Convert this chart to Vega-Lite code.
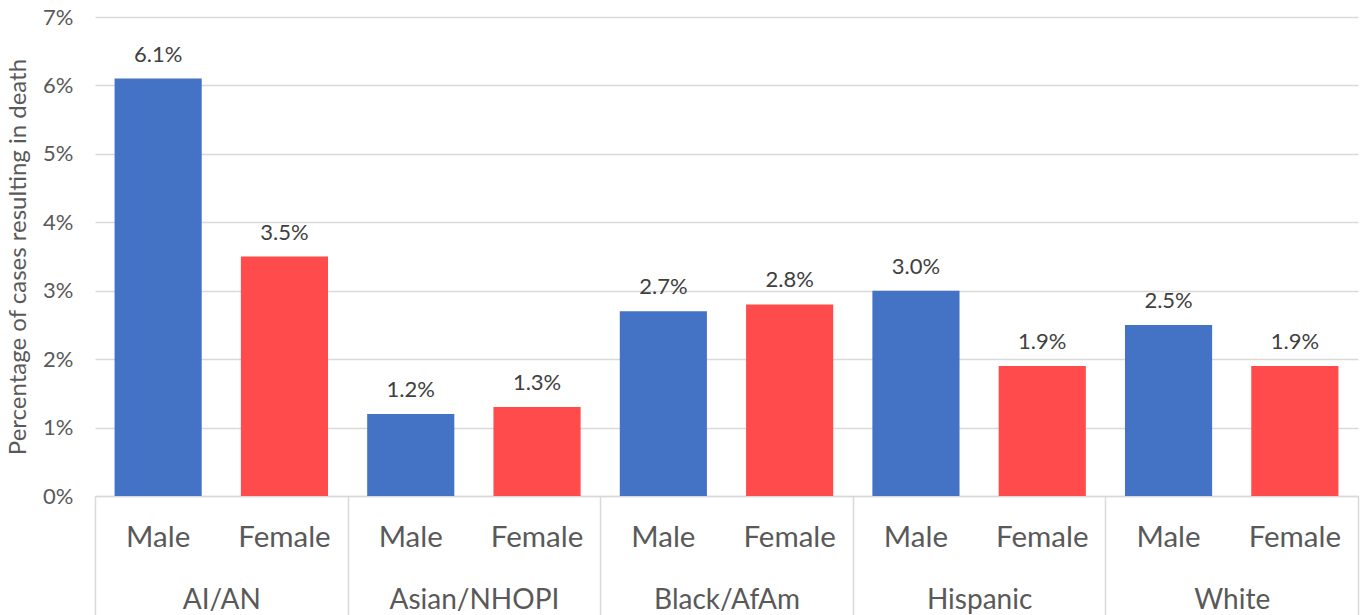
{
  "$schema": "https://vega.github.io/schema/vega-lite/v6.json",
  "autosize": "none",
  "width": 1263,
  "height": 479,
  "padding": {"left": 95, "top": 17, "right": 5, "bottom": 119},
  "background": "white",
  "config": {
    "font": "Lato",
    "view": {"stroke": null},
    "axis": {"labelFont": "Lato", "titleFont": "Lato"}
  },
  "datasets": {
    "bars": [
      {"group": "AI/AN", "sex": "Male", "key": "AI/AN|Male", "value": 0.061, "label": "6.1%"},
      {"group": "AI/AN", "sex": "Female", "key": "AI/AN|Female", "value": 0.035, "label": "3.5%"},
      {"group": "Asian/NHOPI", "sex": "Male", "key": "Asian/NHOPI|Male", "value": 0.012, "label": "1.2%"},
      {"group": "Asian/NHOPI", "sex": "Female", "key": "Asian/NHOPI|Female", "value": 0.013, "label": "1.3%"},
      {"group": "Black/AfAm", "sex": "Male", "key": "Black/AfAm|Male", "value": 0.027, "label": "2.7%"},
      {"group": "Black/AfAm", "sex": "Female", "key": "Black/AfAm|Female", "value": 0.028, "label": "2.8%"},
      {"group": "Hispanic", "sex": "Male", "key": "Hispanic|Male", "value": 0.030, "label": "3.0%"},
      {"group": "Hispanic", "sex": "Female", "key": "Hispanic|Female", "value": 0.019, "label": "1.9%"},
      {"group": "White", "sex": "Male", "key": "White|Male", "value": 0.025, "label": "2.5%"},
      {"group": "White", "sex": "Female", "key": "White|Female", "value": 0.019, "label": "1.9%"}
    ],
    "groups": [
      {"group": "AI/AN"},
      {"group": "Asian/NHOPI"},
      {"group": "Black/AfAm"},
      {"group": "Hispanic"},
      {"group": "White"}
    ]
  },
  "layer": [
    {
      "data": {"name": "bars"},
      "encoding": {
        "x": {
          "field": "key",
          "type": "nominal",
          "sort": null,
          "scale": {"type": "band", "paddingInner": 0.31, "paddingOuter": 0.155},
          "axis": {
            "orient": "bottom",
            "title": null,
            "ticks": false,
            "domain": false,
            "grid": false,
            "labelAngle": 0,
            "labelExpr": "split(datum.label, '|')[1]",
            "labelFontSize": 29.5,
            "labelColor": "#595959",
            "labelPadding": 27
          }
        },
        "y": {
          "field": "value",
          "type": "quantitative",
          "scale": {"domain": [0, 0.07], "nice": false},
          "axis": {
            "title": "Percentage of cases resulting in death",
            "titleFontSize": 24,
            "titleFontWeight": "normal",
            "titleColor": "#595959",
            "titlePadding": 12,
            "values": [0, 0.01, 0.02, 0.03, 0.04, 0.05, 0.06, 0.07],
            "format": ".0%",
            "labelFontSize": 22,
            "labelColor": "#595959",
            "labelPadding": 22,
            "ticks": false,
            "domain": false,
            "grid": true,
            "gridColor": "#d9d9d9",
            "gridWidth": 1.5
          }
        }
      },
      "layer": [
        {
          "mark": {"type": "bar"},
          "encoding": {
            "color": {
              "field": "sex",
              "type": "nominal",
              "scale": {"domain": ["Male", "Female"], "range": ["#4472C4", "#FF4B4B"]},
              "legend": null
            }
          }
        },
        {
          "mark": {"type": "text", "baseline": "alphabetic", "dy": -17, "fontSize": 22, "color": "#404040"},
          "encoding": {"text": {"field": "label"}}
        }
      ]
    },
    {
      "data": {"name": "groups"},
      "mark": {"type": "bar", "opacity": 0},
      "encoding": {
        "x": {
          "field": "group",
          "type": "nominal",
          "sort": null,
          "scale": {"type": "band", "paddingInner": 0, "paddingOuter": 0},
          "axis": {
            "orient": "bottom",
            "title": null,
            "domain": true,
            "domainColor": "#d9d9d9",
            "domainWidth": 1.5,
            "ticks": true,
            "tickBand": "extent",
            "tickSize": 119,
            "tickColor": "#d9d9d9",
            "tickWidth": 1.5,
            "grid": false,
            "labelAngle": 0,
            "labelFontSize": 28,
            "labelColor": "#595959",
            "labelPadding": -29
          }
        },
        "y": {"datum": 0}
      }
    }
  ],
  "resolve": {"scale": {"x": "independent"}, "axis": {"x": "independent"}}
}
